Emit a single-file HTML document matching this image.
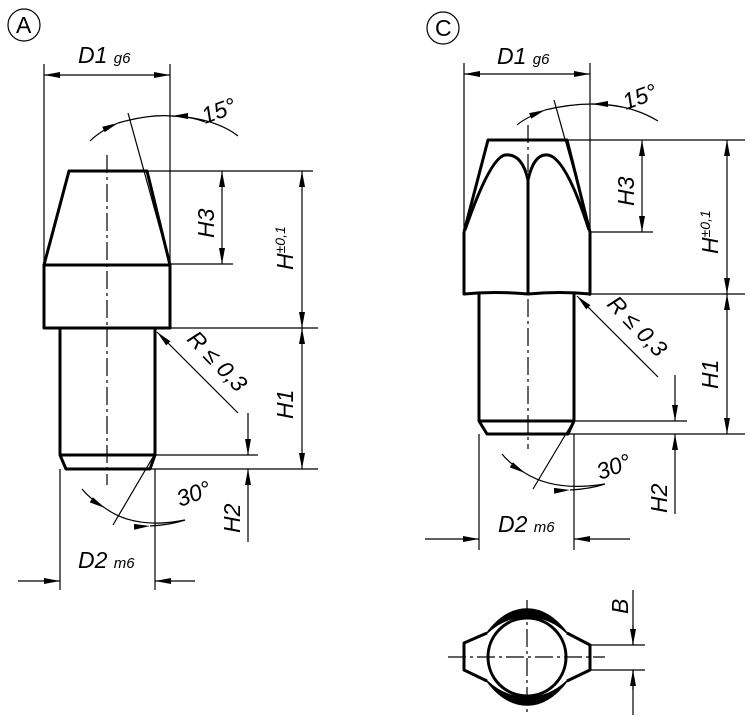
<!DOCTYPE html>
<html><head><style>body{margin:0;background:#fff}svg{display:block}
text{font-family:"Liberation Sans",sans-serif;font-style:italic;fill:#000}</style></head>
<body>
<svg width="750" height="719" viewBox="0 0 750 719" xmlns="http://www.w3.org/2000/svg">
<defs>
<marker id="a" viewBox="0 0 16 6" refX="16" refY="3" markerWidth="16" markerHeight="6" orient="auto" markerUnits="userSpaceOnUse"><path d="M0,0L16,3L0,6z" fill="#000"/></marker>
</defs>
<g fill="none" stroke="#000" stroke-width="1.2">
<circle cx="24" cy="25" r="16"/>
<line x1="44" y1="64" x2="44" y2="265"/><line x1="170" y1="64" x2="170" y2="328"/>
<path d="M107,75H44" marker-end="url(#a)"/><path d="M107,75H170" marker-end="url(#a)"/>
<path d="M90,141 Q100,131 118,123" marker-end="url(#a)"/>
<path d="M118,123 Q150,114 172,116"/>
<path d="M238,136 Q215,118 172,116" />
<path d="M205,122 Q190,116 172,116" marker-end="url(#a)"/>
<line x1="128" y1="113" x2="170" y2="265"/>
<line x1="107" y1="155" x2="107" y2="485" stroke-dasharray="18,4,3,4"/>
<line x1="147" y1="171" x2="313" y2="171"/><line x1="170" y1="264" x2="233" y2="264"/>
<line x1="170" y1="328" x2="318" y2="328"/>
<line x1="150" y1="469" x2="318" y2="469"/><line x1="155" y1="455" x2="258" y2="455"/>
<path d="M222,218V171" marker-end="url(#a)"/><path d="M222,218V264" marker-end="url(#a)"/>
<path d="M302,250V171" marker-end="url(#a)"/><path d="M302,250V328" marker-end="url(#a)"/>
<path d="M302,400V328" marker-end="url(#a)"/><path d="M302,400V469" marker-end="url(#a)"/>
<path d="M238,413L157,332" marker-end="url(#a)"/>
<path d="M248,413V455" marker-end="url(#a)"/><path d="M248,542V469" marker-end="url(#a)"/>
<path d="M82,489 Q90,499 105,508" marker-end="url(#a)"/>
<path d="M105,508 Q135,530 185,520"/><path d="M150,526 Q170,525 185,520" marker-start="url(#a)"/>
<line x1="153" y1="457" x2="113" y2="525"/>
<line x1="60" y1="469" x2="60" y2="590"/><line x1="155" y1="469" x2="155" y2="590"/>
<path d="M18,581H60" marker-end="url(#a)"/><path d="M195,581H155" marker-end="url(#a)"/>
<circle cx="443" cy="28" r="16"/>
<line x1="464" y1="63" x2="464" y2="232"/><line x1="590" y1="63" x2="590" y2="296"/>
<path d="M527,74H464" marker-end="url(#a)"/><path d="M527,74H590" marker-end="url(#a)"/>
<path d="M517,125 Q525,118 545,110" marker-end="url(#a)"/>
<path d="M545,110 Q570,104 592,104"/>
<path d="M658,121 Q630,104 592,104"/><path d="M622,107 Q605,104 592,104" marker-end="url(#a)"/>
<line x1="554" y1="100" x2="582" y2="200"/>
<line x1="528" y1="125" x2="528" y2="449" stroke-dasharray="18,4,3,4"/>
<line x1="567" y1="140" x2="745" y2="140"/><line x1="590" y1="232" x2="653" y2="232"/>
<line x1="590" y1="294" x2="745" y2="294"/>
<line x1="568" y1="434" x2="745" y2="434"/><line x1="574" y1="421" x2="687" y2="421"/>
<path d="M642,186V140" marker-end="url(#a)"/><path d="M642,186V232" marker-end="url(#a)"/>
<path d="M727,217V140" marker-end="url(#a)"/><path d="M727,217V294" marker-end="url(#a)"/>
<path d="M727,364V294" marker-end="url(#a)"/><path d="M727,364V434" marker-end="url(#a)"/>
<path d="M658,377L577,296" marker-end="url(#a)"/>
<path d="M675,375V421" marker-end="url(#a)"/><path d="M675,514V434" marker-end="url(#a)"/>
<path d="M502,454 Q510,464 525,473" marker-end="url(#a)"/>
<path d="M525,473 Q555,492 605,484"/><path d="M570,490 Q590,489 605,484" marker-start="url(#a)"/>
<line x1="573" y1="422" x2="533" y2="489"/>
<line x1="479" y1="434" x2="479" y2="550"/><line x1="574" y1="434" x2="574" y2="550"/>
<path d="M425,539H479" marker-end="url(#a)"/><path d="M630,539H574" marker-end="url(#a)"/>
<line x1="448" y1="657" x2="605" y2="657" stroke-dasharray="18,4,3,4"/>
<line x1="527" y1="600" x2="527" y2="715" stroke-dasharray="18,4,3,4"/>
<line x1="590" y1="645" x2="645" y2="645"/><line x1="590" y1="670" x2="645" y2="670"/>
<line x1="633" y1="590" x2="633" y2="645"/><path d="M633,625V645" marker-end="url(#a)"/>
<line x1="633" y1="670" x2="633" y2="715"/><path d="M633,690V670" marker-end="url(#a)"/>
</g>
<g fill="none" stroke="#000" stroke-width="3" stroke-linejoin="round">
<path d="M44,265L69,171H147L170,265"/>
<rect x="44" y="265" width="126" height="63"/>
<path d="M60,328V455L66,469H150L155,455V328"/><line x1="60" y1="455" x2="155" y2="455"/>
<path d="M464,232L488,140H567L590,232"/>
<path d="M464,232V294Q495,291 528,294Q560,291 590,294V232"/>
<path d="M465,230Q490,158 505,155Q522,153 528,180Q534,153 548,155Q566,158 589,230"/>
<line x1="528" y1="180" x2="528" y2="294"/>
<path d="M479,294V421L487,434H568L574,421V294"/><line x1="479" y1="421" x2="574" y2="421"/>
<circle cx="527" cy="657" r="39"/>
<path d="M487,633L464,643V670L487,681M567,633L590,645V670L567,681"/>
<path d="M487,633Q505,609 527,609Q549,609 567,633Q549,616 527,617Q505,616 487,633z" fill="#000" stroke-width="1.5"/>
<path d="M487,681Q505,705 527,705Q549,705 567,681Q549,698 527,697Q505,698 487,681z" fill="#000" stroke-width="1.5"/>
</g>
<g font-size="23">
<text x="16" y="33" style="font-style:normal">A</text>
<text x="435" y="36" style="font-style:normal">C</text>
<text x="78" y="63">D1 <tspan font-size="15">g6</tspan></text>
<text x="497" y="64">D1 <tspan font-size="15">g6</tspan></text>
<text x="78" y="568">D2 <tspan font-size="15">m6</tspan></text>
<text x="498" y="532">D2 <tspan font-size="15">m6</tspan></text>
<text transform="translate(205,124) rotate(-20)">15°</text>
<text transform="translate(626,110) rotate(-20)">15°</text>
<text transform="translate(180,507) rotate(-20)">30°</text>
<text transform="translate(600,480) rotate(-20)">30°</text>
<text transform="translate(214,238) rotate(-90)">H3</text>
<text transform="translate(634,206) rotate(-90)">H3</text>
<text transform="translate(293,270) rotate(-90)">H<tspan font-size="14" dy="-8">±0,1</tspan></text>
<text transform="translate(718,254) rotate(-90)">H<tspan font-size="14" dy="-8">±0,1</tspan></text>
<text transform="translate(293,419) rotate(-90)">H1</text>
<text transform="translate(718,389) rotate(-90)">H1</text>
<text transform="translate(240,533) rotate(-90)">H2</text>
<text transform="translate(667,513) rotate(-90)">H2</text>
<text transform="translate(186,340) rotate(46)">R ≤ 0,3</text>
<text transform="translate(606,305) rotate(46)">R ≤ 0,3</text>
<text transform="translate(628,614) rotate(-90)">B</text>
</g>
</svg>
</body></html>
